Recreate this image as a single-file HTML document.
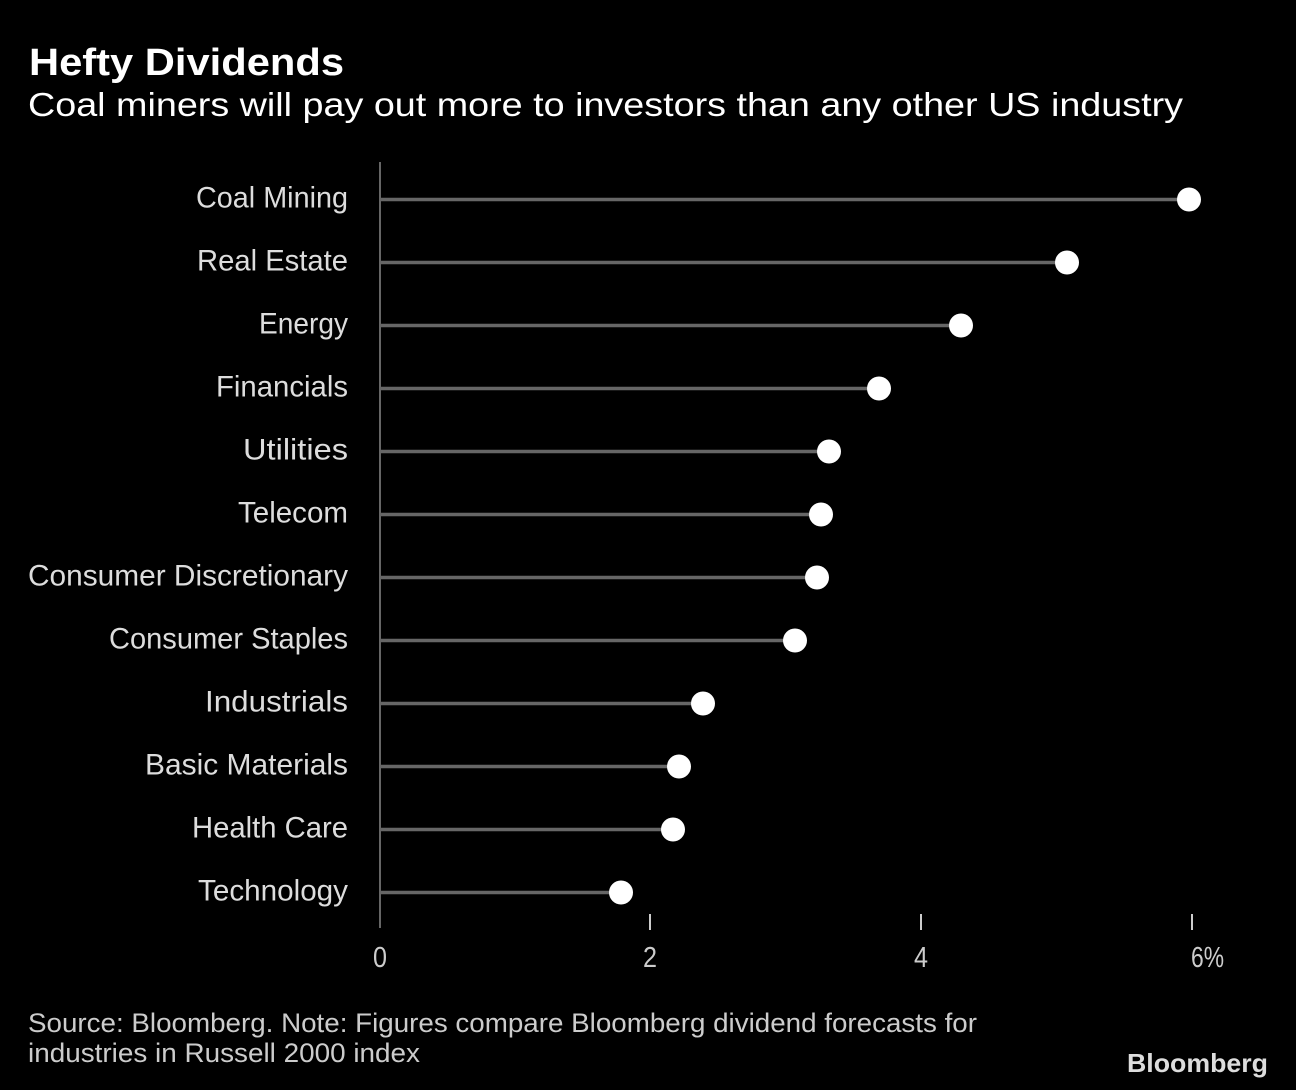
<!DOCTYPE html>
<html>
<head>
<meta charset="utf-8">
<style>
html,body{margin:0;padding:0;background:#000;}
svg{display:block;}
text{font-family:"Liberation Sans",sans-serif;}
</style>
</head>
<body>
<svg width="1296" height="1090" viewBox="0 0 1296 1090" xmlns="http://www.w3.org/2000/svg">
<rect width="1296" height="1090" fill="#000"/>
<text x="29" y="75" font-size="38" font-weight="bold" fill="#fff" textLength="315" lengthAdjust="spacingAndGlyphs">Hefty Dividends</text>
<text x="28" y="116" font-size="33" fill="#fff" textLength="1155" lengthAdjust="spacingAndGlyphs">Coal miners will pay out more to investors than any other US industry</text>

<!-- axis -->
<line x1="380" y1="162" x2="380" y2="928" stroke="#666" stroke-width="2"/>
<g stroke="#ccc" stroke-width="2">
<line x1="650" y1="914" x2="650" y2="930"/>
<line x1="921" y1="914" x2="921" y2="930"/>
<line x1="1192" y1="914" x2="1192" y2="930"/>
</g>
<g fill="#ccc" font-size="29">
<text x="373" y="967" textLength="14" lengthAdjust="spacingAndGlyphs">0</text>
<text x="643" y="967" textLength="14" lengthAdjust="spacingAndGlyphs">2</text>
<text x="914" y="967" textLength="14" lengthAdjust="spacingAndGlyphs">4</text>
<text x="1191" y="967" textLength="33" lengthAdjust="spacingAndGlyphs">6%</text>
</g>

<!-- stems -->
<g stroke="#666" stroke-width="3.5">
<line x1="381" y1="199.5" x2="1189" y2="199.5"/>
<line x1="381" y1="262.5" x2="1067" y2="262.5"/>
<line x1="381" y1="325.5" x2="961" y2="325.5"/>
<line x1="381" y1="388.5" x2="879" y2="388.5"/>
<line x1="381" y1="451.5" x2="829" y2="451.5"/>
<line x1="381" y1="514.5" x2="821" y2="514.5"/>
<line x1="381" y1="577.5" x2="817" y2="577.5"/>
<line x1="381" y1="640.5" x2="795" y2="640.5"/>
<line x1="381" y1="703.5" x2="703" y2="703.5"/>
<line x1="381" y1="766.5" x2="679" y2="766.5"/>
<line x1="381" y1="829.5" x2="673" y2="829.5"/>
<line x1="381" y1="892.5" x2="621" y2="892.5"/>
</g>
<!-- dots -->
<g fill="#fff">
<circle cx="1189" cy="199.5" r="12"/>
<circle cx="1067" cy="262.5" r="12"/>
<circle cx="961" cy="325.5" r="12"/>
<circle cx="879" cy="388.5" r="12"/>
<circle cx="829" cy="451.5" r="12"/>
<circle cx="821" cy="514.5" r="12"/>
<circle cx="817" cy="577.5" r="12"/>
<circle cx="795" cy="640.5" r="12"/>
<circle cx="703" cy="703.5" r="12"/>
<circle cx="679" cy="766.5" r="12"/>
<circle cx="673" cy="829.5" r="12"/>
<circle cx="621" cy="892.5" r="12"/>
</g>

<!-- labels -->
<g fill="#ddd" font-size="29.5" text-anchor="end">
<text x="348" y="207.5" textLength="152" lengthAdjust="spacingAndGlyphs">Coal Mining</text>
<text x="348" y="270.5" textLength="151" lengthAdjust="spacingAndGlyphs">Real Estate</text>
<text x="348" y="333.5" textLength="89" lengthAdjust="spacingAndGlyphs">Energy</text>
<text x="348" y="396.5" textLength="132" lengthAdjust="spacingAndGlyphs">Financials</text>
<text x="348" y="459.5" textLength="105" lengthAdjust="spacingAndGlyphs">Utilities</text>
<text x="348" y="522.5" textLength="110" lengthAdjust="spacingAndGlyphs">Telecom</text>
<text x="348" y="585.5" textLength="320" lengthAdjust="spacingAndGlyphs">Consumer Discretionary</text>
<text x="348" y="648.5" textLength="239" lengthAdjust="spacingAndGlyphs">Consumer Staples</text>
<text x="348" y="711.5" textLength="143" lengthAdjust="spacingAndGlyphs">Industrials</text>
<text x="348" y="774.5" textLength="203" lengthAdjust="spacingAndGlyphs">Basic Materials</text>
<text x="348" y="837.5" textLength="156" lengthAdjust="spacingAndGlyphs">Health Care</text>
<text x="348" y="900.5" textLength="150" lengthAdjust="spacingAndGlyphs">Technology</text>
</g>

<!-- footer -->
<g fill="#ccc" font-size="26.5">
<text x="28" y="1032" textLength="949" lengthAdjust="spacingAndGlyphs">Source: Bloomberg. Note: Figures compare Bloomberg dividend forecasts for</text>
<text x="28" y="1062" textLength="392" lengthAdjust="spacingAndGlyphs">industries in Russell 2000 index</text>
</g>
<text x="1127" y="1072" font-size="26" font-weight="bold" fill="#ddd" textLength="141" lengthAdjust="spacingAndGlyphs">Bloomberg</text>
</svg>
</body>
</html>
